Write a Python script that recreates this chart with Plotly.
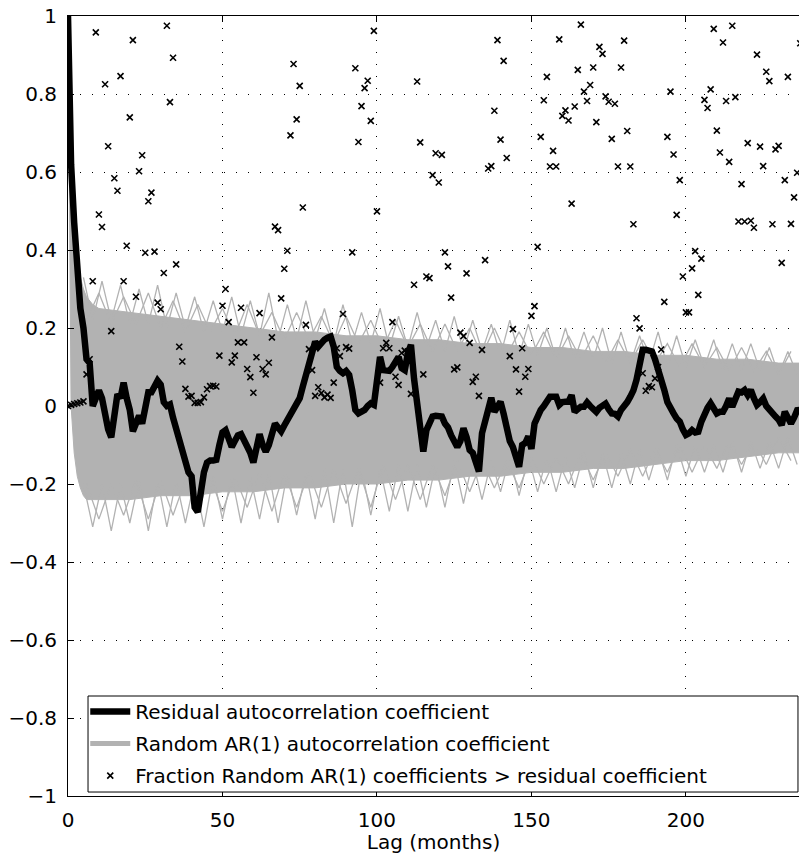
import plotly.graph_objects as go

# ---------------- data ----------------
lags = list(range(0, 238))

residual = [
    1.0, 0.62, 0.47, 0.35, 0.25, 0.2, 0.12, 0.11, 0.0, 0.02,
    0.04, 0.02, -0.03, -0.06, -0.08, -0.01, 0.03, 0.02, 0.06, 0.02,
    -0.01, -0.065, -0.04, -0.025, -0.045, 0.0, 0.035, 0.035, 0.05, 0.065,
    0.055, 0.01, 0.0, 0.004, -0.03, -0.06, -0.09, -0.115, -0.14, -0.17,
    -0.18, -0.26, -0.272, -0.22, -0.17, -0.145, -0.14, -0.14, -0.138, -0.1,
    -0.068, -0.062, -0.085, -0.105, -0.09, -0.075, -0.072, -0.088, -0.1, -0.12,
    -0.145, -0.1, -0.072, -0.1, -0.117, -0.1, -0.07, -0.045, -0.055, -0.065,
    -0.05, -0.035, -0.02, -0.006, 0.008, 0.02, 0.05, 0.08, 0.1, 0.13,
    0.165, 0.152, 0.165, 0.17, 0.175, 0.178, 0.152, 0.1, 0.09, 0.084,
    0.09, 0.08, 0.04, -0.01, -0.019, -0.015, -0.01, 0.0, 0.007, 0.003,
    0.06, 0.126, 0.092, 0.092, 0.09, 0.1, 0.115, 0.126, 0.097, 0.092,
    0.135, 0.157, 0.07, 0.007, -0.06, -0.117, -0.062, -0.045, -0.027, -0.025,
    -0.025, -0.027, -0.045, -0.055, -0.075, -0.095, -0.105, -0.09, -0.057, -0.08,
    -0.113, -0.12, -0.14, -0.168, -0.07, -0.035, 0.0, 0.021, -0.015, 0.0,
    0.011, -0.02, -0.06, -0.09, -0.105, -0.13, -0.156, -0.1, -0.095, -0.078,
    -0.11, -0.045, -0.025, -0.01, 0.0, 0.015, 0.024, 0.024, 0.024, 0.003,
    0.01, 0.011, 0.011, 0.028, -0.015, -0.008, -0.002, -0.002, 0.009, 0.0,
    -0.01, -0.015, -0.005, 0.002, 0.006, -0.008, -0.019, -0.02, -0.027, -0.01,
    -0.002, 0.01, 0.024, 0.04, 0.067, 0.1, 0.144, 0.144, 0.14, 0.14,
    0.12, 0.097, 0.075, 0.041, 0.01, -0.01, -0.019, -0.032, -0.04, -0.06,
    -0.074, -0.07, -0.062, -0.068, -0.066, -0.04, -0.019, -0.005, 0.007, -0.005,
    -0.019, -0.015, -0.015, 0.0, 0.019, -0.002, 0.02, 0.037, 0.035, 0.041,
    0.028, 0.041, 0.02, 0.003, 0.01, 0.019, 0.0, -0.011, -0.02, -0.027,
    -0.035, -0.049, -0.015, -0.03, -0.045, -0.03, -0.011, -0.01,
]

fraction = [
    0.0, 0.003, 0.005, 0.007, 0.009, 0.012, 0.081, 0.12, 0.32, 0.958,
    0.491, 0.459, 0.825, 0.666, 0.192, 0.584, 0.552, 0.846, 0.32, 0.411,
    0.74, 0.938, 0.28, 0.602, 0.643, 0.393, 0.525, 0.547, 0.396, 0.265,
    0.248, 0.341, 0.975, 0.779, 0.893, 0.363, 0.152, 0.114, 0.044, 0.024,
    0.026, 0.008, 0.008, 0.01, 0.022, 0.043, 0.051, 0.052, 0.05, 0.129,
    0.257, 0.3, 0.215, 0.112, 0.129, 0.163, 0.252, 0.163, 0.095, 0.074,
    0.034, 0.125, 0.238, 0.095, 0.081, 0.111, 0.176, 0.46, 0.451, 0.276,
    0.352, 0.398, 0.694, 0.877, 0.735, 0.821, 0.509, 0.208, 0.146, 0.092,
    0.026, 0.048, 0.033, 0.022, 0.029, 0.021, 0.06, 0.148, 0.128, 0.236,
    0.151, 0.147, 0.394, 0.866, 0.677, 0.769, 0.815, 0.834, 0.731, 0.962,
    0.499, 0.06, 0.148, 0.162, 0.148, 0.215, 0.075, 0.054, 0.136, 0.142,
    0.14, 0.031, 0.311, 0.832, 0.676, 0.081, 0.332, 0.328, 0.592, 0.648,
    0.573, 0.644, 0.394, 0.358, 0.278, 0.094, 0.099, 0.188, 0.179, 0.34,
    0.162, 0.062, 0.075, 0.026, 0.144, 0.374, 0.609, 0.615, 0.757, 0.938,
    0.683, 0.885, 0.636, 0.128, 0.197, 0.094, 0.037, 0.148, 0.075, 0.095,
    0.231, 0.256, 0.408, 0.69, 0.784, 0.844, 0.614, 0.654, 0.614, 0.94,
    0.744, 0.758, 0.732, 0.519, 0.768, 0.862, 0.978, 0.806, 0.782, 0.823,
    0.868, 0.728, 0.921, 0.903, 0.794, 0.78, 0.685, 0.775, 0.614, 0.868,
    0.937, 0.705, 0.614, 0.466, 0.225, 0.199, 0.084, 0.039, 0.051, 0.048,
    0.071, 0.1, 0.145, 0.267, 0.69, 0.806, 0.645, 0.49, 0.579, 0.332,
    0.24, 0.24, 0.353, 0.397, 0.285, 0.378, 0.785, 0.764, 0.812, 0.967,
    0.706, 0.65, 0.932, 0.782, 0.626, 0.975, 0.792, 0.473, 0.569, 0.473,
    0.674, 0.475, 0.457, 0.901, 0.665, 0.615, 0.857, 0.833, 0.466, 0.658,
    0.667, 0.367, 0.579, 0.844, 0.467, 0.535, 0.598, 0.93,
]

# dense core of the random AR(1) autocorrelation band
band_lags = [0, 1, 2, 3, 4, 5, 6, 8, 10, 20, 30, 40, 50, 60, 70, 80, 90, 100,
             110, 120, 130, 140, 150, 160, 170, 180, 190, 200, 210, 220, 230, 238]
band_upper = [1.0, 0.6, 0.45, 0.38, 0.33, 0.3, 0.28, 0.26, 0.25, 0.24, 0.23, 0.22,
              0.21, 0.2, 0.19, 0.19, 0.18, 0.18, 0.17, 0.17, 0.16, 0.16, 0.15, 0.15,
              0.14, 0.14, 0.13, 0.13, 0.12, 0.12, 0.11, 0.11]
band_lower = [1.0, 0.0, -0.12, -0.18, -0.21, -0.23, -0.24, -0.24, -0.24, -0.24, -0.23,
              -0.23, -0.22, -0.22, -0.21, -0.21, -0.2, -0.2, -0.19, -0.19, -0.18, -0.18,
              -0.17, -0.17, -0.16, -0.16, -0.15, -0.14, -0.14, -0.13, -0.12, -0.12]

# outermost random AR(1) excursions (spiky band edges), two sampled curves per side
edge_lags = list(range(5, 237, 3))
edge_upper = [
    0.33, 0.22, 0.32, 0.22, 0.31, 0.21, 0.30, 0.21, 0.31, 0.20,
    0.29, 0.20, 0.28, 0.19, 0.27, 0.19, 0.28, 0.18, 0.27, 0.18,
    0.29, 0.17, 0.26, 0.17, 0.27, 0.17, 0.25, 0.16, 0.26, 0.16,
    0.24, 0.16, 0.25, 0.15, 0.23, 0.15, 0.24, 0.15, 0.22, 0.14,
    0.23, 0.14, 0.22, 0.14, 0.21, 0.13, 0.22, 0.13, 0.21, 0.13,
    0.20, 0.12, 0.20, 0.12, 0.19, 0.12, 0.20, 0.11, 0.19, 0.11,
    0.18, 0.11, 0.19, 0.10, 0.18, 0.10, 0.17, 0.10, 0.17, 0.09,
    0.16, 0.09, 0.16, 0.09, 0.15, 0.08, 0.14, 0.08,
]
edge_lower = [
    -0.20, -0.31, -0.20, -0.32, -0.20, -0.30, -0.19, -0.32, -0.19, -0.31,
    -0.19, -0.30, -0.19, -0.31, -0.18, -0.29, -0.18, -0.30, -0.18, -0.29,
    -0.17, -0.30, -0.17, -0.28, -0.17, -0.29, -0.16, -0.30, -0.16, -0.31,
    -0.16, -0.28, -0.16, -0.27, -0.15, -0.27, -0.15, -0.26, -0.15, -0.26,
    -0.14, -0.25, -0.14, -0.24, -0.14, -0.22, -0.13, -0.23, -0.13, -0.22,
    -0.13, -0.22, -0.13, -0.21, -0.12, -0.21, -0.12, -0.21, -0.12, -0.20,
    -0.11, -0.19, -0.11, -0.19, -0.10, -0.18, -0.10, -0.17, -0.10, -0.17,
    -0.09, -0.17, -0.09, -0.16, -0.09, -0.16, -0.08, -0.15,
]
edge2_lags = list(range(6, 237, 4))
edge2_upper = [
    0.22, 0.29, 0.21, 0.28, 0.21, 0.29, 0.20, 0.27, 0.19, 0.26,
    0.19, 0.25, 0.18, 0.26, 0.18, 0.24, 0.17, 0.24, 0.17, 0.23,
    0.16, 0.23, 0.16, 0.22, 0.15, 0.22, 0.15, 0.21, 0.14, 0.21,
    0.14, 0.20, 0.13, 0.20, 0.13, 0.19, 0.13, 0.19, 0.12, 0.18,
    0.12, 0.18, 0.11, 0.17, 0.11, 0.17, 0.11, 0.16, 0.10, 0.16,
    0.10, 0.15, 0.09, 0.15, 0.09, 0.14, 0.08, 0.14,
]
edge2_lower = [
    -0.20, -0.29, -0.20, -0.28, -0.19, -0.29, -0.19, -0.28, -0.19, -0.27,
    -0.18, -0.27, -0.18, -0.26, -0.17, -0.27, -0.17, -0.26, -0.17, -0.26,
    -0.16, -0.25, -0.16, -0.26, -0.15, -0.24, -0.15, -0.24, -0.15, -0.23,
    -0.14, -0.22, -0.14, -0.21, -0.14, -0.21, -0.13, -0.20, -0.13, -0.20,
    -0.12, -0.19, -0.12, -0.18, -0.11, -0.18, -0.11, -0.17, -0.10, -0.17,
    -0.10, -0.16, -0.09, -0.15, -0.09, -0.15, -0.08, -0.14,
]

x_ticks = [0, 50, 100, 150, 200]

# ---------------- styles ----------------
GRAY = "#b2b2b2"
FONT = "DejaVu Sans"

fig = go.Figure()

fig.add_trace(go.Scatter(x=band_lags, y=band_lower, mode="lines",
                         line=dict(color=GRAY, width=1), showlegend=False, hoverinfo="skip"))
fig.add_trace(go.Scatter(x=band_lags, y=band_upper, mode="lines", fill="tonexty",
                         fillcolor=GRAY, line=dict(color=GRAY, width=1),
                         showlegend=False, hoverinfo="skip"))
for ex, ey in ((edge_lags, edge_upper), (edge_lags, edge_lower),
               (edge2_lags, edge2_upper), (edge2_lags, edge2_lower)):
    fig.add_trace(go.Scatter(x=ex, y=ey, mode="lines",
                             line=dict(color=GRAY, width=1.3),
                             showlegend=False, hoverinfo="skip"))

fig.add_trace(go.Scatter(x=lags, y=residual, mode="lines",
                         line=dict(color="black", width=6.5),
                         name="Residual autocorrelation coefficient",
                         legendrank=1, legendgroup="a"))
# legend entry for the grey random AR(1) curves
fig.add_trace(go.Scatter(x=[None], y=[None], mode="lines",
                         line=dict(color=GRAY, width=5),
                         name="Random AR(1) autocorrelation coefficient",
                         legendrank=2, legendgroup="b"))
fig.add_trace(go.Scatter(x=lags, y=fraction, mode="markers",
                         marker=dict(symbol="x-thin", size=6, color="black",
                                     line=dict(color="black", width=1.6)),
                         name="Fraction Random AR(1) coefficients > residual coefficient",
                         legendrank=3, legendgroup="c"))

axis_common = dict(
    showline=True, linecolor="black", linewidth=1,
    ticks="inside", ticklen=6, tickcolor="black", tickwidth=1,
    showgrid=True, gridcolor="black", gridwidth=1, griddash="1px,11px",
    zeroline=False,
    tickfont=dict(family=FONT, size=20, color="black"),
)

fig.update_xaxes(range=[0, 236.6], tickvals=x_ticks, mirror="ticks",
                 title=dict(text="Lag (months)", font=dict(family=FONT, size=20, color="black"),
                            standoff=4),
                 ticklabelstandoff=6, **axis_common)
fig.update_yaxes(range=[-1, 1], tickmode="linear", tick0=-1, dtick=0.2,
                 ticklabelstandoff=6, **axis_common)

# legend frame (MATLAB-style box reaching the right edge of the axes)
fig.add_shape(type="rect", xref="paper", yref="paper",
              x0=0.0274, x1=0.9986, y0=0.0051, y1=0.1282,
              line=dict(color="black", width=1), fillcolor="white", layer="above")

fig.update_layout(
    width=799, height=854,
    margin=dict(l=68, r=0, t=16, b=58),
    paper_bgcolor="white", plot_bgcolor="white",
    font=dict(family=FONT, size=20, color="black"),
    legend=dict(x=0.0236, y=0.0012, xanchor="left", yanchor="bottom",
                bgcolor="rgba(0,0,0,0)", borderwidth=0,
                font=dict(family=FONT, size=20, color="black"),
                tracegroupgap=3, itemwidth=40),
)

fig.write_html("out.html")
